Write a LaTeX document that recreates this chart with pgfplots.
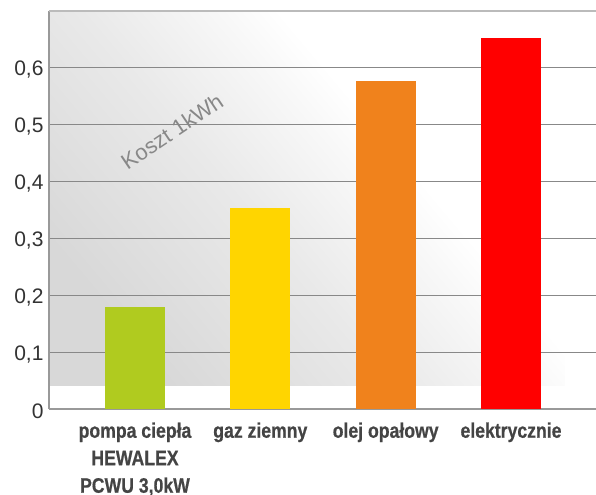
\documentclass[border=0pt]{standalone}
\usepackage{fontspec}
\setmainfont{Liberation Sans}
\newfontfamily\condfont[FakeStretch=0.84,FakeBold=0.6]{Liberation Sans}
\usepackage{pgfplots}
\pgfplotsset{compat=1.18}
\definecolor{bgA}{HTML}{D8D8D8}
\definecolor{bgB}{HTML}{E9E9E9}
\definecolor{bgC}{HTML}{F8F8F8}
\definecolor{cgreen}{HTML}{B0CB1F}
\definecolor{cyellow}{HTML}{FFD500}
\definecolor{corange}{HTML}{F0821C}
\definecolor{cred}{HTML}{FF0000}
\definecolor{gridc}{HTML}{888888}
\definecolor{axc}{HTML}{999999}
\definecolor{topc}{HTML}{BBBBBB}
\definecolor{txt}{HTML}{333333}
\definecolor{lbl}{HTML}{444444}
\pgfdeclareverticalshading{bgsh}{100bp}{color(0bp)=(bgA); color(25bp)=(bgA); color(44bp)=(bgB); color(56bp)=(bgC); color(61bp)=(white); color(100bp)=(white)}
\begin{document}
\begin{tikzpicture}
\begin{axis}[
  set layers,
  scale only axis,
  width=547pt, height=398pt,
  xmin=-0.686, xmax=3.678,
  ymin=0, ymax=0.7,
  axis x line*=bottom,
  axis y line*=left,
  x axis line style={draw=axc, line width=2pt},
  y axis line style={draw=axc, line width=1.5pt},
  ytick={0,0.1,0.2,0.3,0.4,0.5,0.6},
  ymajorgrids,
  grid style={draw=gridc, line width=1pt},
  major tick length=0pt,
  /pgf/number format/.cd, use comma, fixed, assume math mode=true,
  /pgfplots/.cd,
  yticklabel style={font=\fontsize{21}{25}\selectfont, text=txt, xshift=-2pt, yshift=-2pt},
  xtick={0,1,2,3},
  xticklabels={{pompa ciepła\\HEWALEX\\PCWU 3,0kW}, {gaz ziemny}, {olej opałowy}, {elektrycznie}},
  xticklabel style={font=\condfont\bfseries\fontsize{21}{27.5}\selectfont, text=lbl, align=center, yshift=-10pt},
  ybar, bar width=0.48, bar shift=0pt,
  clip=false,
]
\begin{pgfonlayer}{axis background}
\shade[shading=bgsh, shading angle=-50] (axis cs:-0.686,0.042) rectangle (axis cs:3.43,0.7);
\end{pgfonlayer}
\addplot[fill=cgreen, draw=none] coordinates {(0,0.179)};
\addplot[fill=cyellow, draw=none] coordinates {(1,0.353)};
\addplot[fill=corange, draw=none] coordinates {(2,0.577)};
\addplot[fill=cred, draw=none] coordinates {(3,0.653)};
\draw[topc, line width=2pt] (rel axis cs:0,1) -- (rel axis cs:1,1);
\node[rotate=34, text=gridc, font=\fontsize{22}{26}\selectfont] at (axis cs:0.295,0.488) {Koszt 1kWh};
\coordinate (sw) at (rel axis cs:0,0);
\coordinate (ne) at (rel axis cs:1,1);
\end{axis}
\pgfresetboundingbox
\useasboundingbox ([shift={(-49pt,-86pt)}]sw) rectangle ([shift={(0pt,11pt)}]ne);
\end{tikzpicture}
\end{document}
